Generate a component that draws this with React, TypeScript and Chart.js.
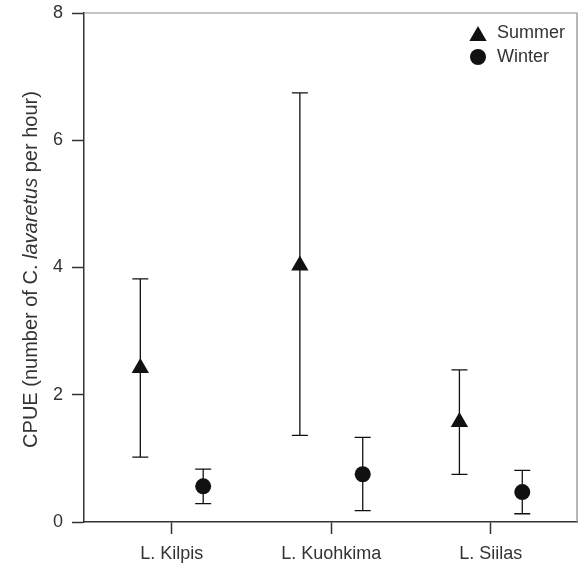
import React, { useEffect, useRef } from 'react';
import { Chart, registerables } from 'chart.js';

Chart.register(...registerables);

const categories = ['L. Kilpis', 'L. Kuohkima', 'L. Siilas'];
const summerMean = [2.42, 4.03, 1.57];
const summerLow = [1.02, 1.36, 0.75];
const summerHigh = [3.82, 6.745, 2.39];
const winterMean = [0.56, 0.75, 0.47];
const winterLow = [0.29, 0.18, 0.13];
const winterHigh = [0.83, 1.33, 0.81];
const yTicks = [0, 2, 4, 6, 8];
const seriesNames = ['Summer', 'Winter'];
const groupOffset = 0.197;

const FONT = '"Liberation Sans", Arial, Helvetica, sans-serif';
const TEXT = '#333333';

const errorBarPlugin = {
  id: 'errorBars',
  beforeDatasetsDraw(chart: any) {
    const { ctx, scales } = chart;
    const x = scales.x;
    const y = scales.y;
    const sets = [
      { lo: summerLow, hi: summerHigh, off: -groupOffset },
      { lo: winterLow, hi: winterHigh, off: groupOffset },
    ];
    ctx.save();
    ctx.strokeStyle = '#111111';
    ctx.lineWidth = 1.3;
    sets.forEach((s) => {
      categories.forEach((_, i) => {
        const px = x.getPixelForValue(i + 1 + s.off);
        const pl = y.getPixelForValue(s.lo[i]);
        const ph = y.getPixelForValue(s.hi[i]);
        ctx.beginPath();
        ctx.moveTo(px, pl);
        ctx.lineTo(px, ph);
        ctx.moveTo(px - 8, pl);
        ctx.lineTo(px + 8, pl);
        ctx.moveTo(px - 8, ph);
        ctx.lineTo(px + 8, ph);
        ctx.stroke();
      });
    });
    ctx.restore();
  },
};

const framePlugin = {
  id: 'frame',
  afterDraw(chart: any) {
    const { ctx, chartArea } = chart;
    ctx.save();
    ctx.strokeStyle = '#8a8a8a';
    ctx.lineWidth = 1.2;
    ctx.beginPath();
    ctx.moveTo(chartArea.left, chartArea.top);
    ctx.lineTo(chartArea.right, chartArea.top);
    ctx.lineTo(chartArea.right, chartArea.bottom);
    ctx.stroke();
    ctx.restore();
  },
};

const yTitlePlugin = {
  id: 'yTitle',
  afterDraw(chart: any) {
    const { ctx, chartArea } = chart;
    const parts = [
      { t: 'CPUE (number of C. ', italic: false },
      { t: 'lavaretus', italic: true },
      { t: ' per hour)', italic: false },
    ];
    const size = 20;
    ctx.save();
    let total = 0;
    const widths = parts.map((p) => {
      ctx.font = `${p.italic ? 'italic ' : ''}${size}px ${FONT}`;
      const w = ctx.measureText(p.t).width;
      total += w;
      return w;
    });
    ctx.translate(31, (chartArea.top + chartArea.bottom) / 2 + 2);
    ctx.rotate(-Math.PI / 2);
    ctx.fillStyle = TEXT;
    ctx.textBaseline = 'middle';
    ctx.textAlign = 'left';
    let cx = -total / 2;
    parts.forEach((p, i) => {
      ctx.font = `${p.italic ? 'italic ' : ''}${size}px ${FONT}`;
      ctx.fillText(p.t, cx, 0);
      cx += widths[i];
    });
    ctx.restore();
  },
};

const legendPlugin = {
  id: 'customLegend',
  afterDraw(chart: any) {
    const { ctx } = chart;
    const mx = 478;
    const tx = 497;
    const rows = [33, 57];
    ctx.save();
    ctx.fillStyle = '#111111';
    const r = 10;
    const cy = rows[0] + 3;
    ctx.beginPath();
    ctx.moveTo(mx, cy - r);
    ctx.lineTo(mx + r * 0.866, cy + r * 0.5);
    ctx.lineTo(mx - r * 0.866, cy + r * 0.5);
    ctx.closePath();
    ctx.fill();
    ctx.beginPath();
    ctx.arc(mx, rows[1], 8, 0, Math.PI * 2);
    ctx.fill();
    ctx.fillStyle = TEXT;
    ctx.font = `18px ${FONT}`;
    ctx.textBaseline = 'middle';
    ctx.textAlign = 'left';
    ctx.fillText(seriesNames[0], tx, rows[0]);
    ctx.fillText(seriesNames[1], tx, rows[1]);
    ctx.restore();
  },
};

export default function App() {
  const ref = useRef<HTMLCanvasElement | null>(null);

  useEffect(() => {
    if (!ref.current) return;
    const chart = new Chart(ref.current, {
      type: 'scatter',
      data: {
        datasets: [
          {
            label: seriesNames[0],
            data: categories.map((_, i) => ({ x: i + 1 - groupOffset, y: summerMean[i] })),
            pointStyle: 'triangle',
            pointRadius: 10,
            pointBackgroundColor: '#111111',
            pointBorderColor: '#111111',
            pointBorderWidth: 0,
            showLine: false,
          },
          {
            label: seriesNames[1],
            data: categories.map((_, i) => ({ x: i + 1 + groupOffset, y: winterMean[i] })),
            pointStyle: 'circle',
            pointRadius: 8,
            pointBackgroundColor: '#111111',
            pointBorderColor: '#111111',
            pointBorderWidth: 0,
            showLine: false,
          },
        ],
      },
      options: {
        responsive: false,
        animation: false,
        events: [],
        layout: { autoPadding: false, padding: { left: 0, top: 13, right: 2, bottom: 0 } },
        plugins: {
          legend: { display: false },
          tooltip: { enabled: false },
          title: { display: false },
        },
        scales: {
          x: {
            type: 'linear',
            min: 0.45,
            max: 3.54,
            afterBuildTicks: (s: any) => {
              s.ticks = categories.map((_, i) => ({ value: i + 1 }));
            },
            afterFit: (s: any) => {
              s.height = 44;
              s.paddingLeft = 0;
              s.paddingRight = 0;
              s.paddingTop = 0;
              s.paddingBottom = 0;
            },
            grid: {
              drawOnChartArea: false,
              drawTicks: true,
              tickLength: 12,
              tickColor: '#333333',
              tickWidth: 1.5,
            },
            border: { display: true, color: '#333333', width: 1.5 },
            ticks: {
              padding: 9,
              color: TEXT,
              font: { family: FONT, size: 18 },
              maxRotation: 0,
              autoSkip: false,
              callback: (v: any) => categories[Number(v) - 1] ?? '',
            },
          },
          y: {
            type: 'linear',
            min: 0,
            max: 8,
            afterBuildTicks: (s: any) => {
              s.ticks = yTicks.map((v) => ({ value: v }));
            },
            afterFit: (s: any) => {
              s.width = 84;
              s.paddingLeft = 0;
              s.paddingRight = 0;
              s.paddingTop = 0;
              s.paddingBottom = 0;
            },
            grid: {
              drawOnChartArea: false,
              drawTicks: true,
              tickLength: 12,
              tickColor: '#333333',
              tickWidth: 1.5,
            },
            border: { display: true, color: '#333333', width: 1.5 },
            ticks: {
              padding: 9,
              color: TEXT,
              font: { family: FONT, size: 18 },
            },
          },
        },
      },
      plugins: [errorBarPlugin, framePlugin, yTitlePlugin, legendPlugin],
    });
    return () => chart.destroy();
  }, []);

  return (
    <div style={{ position: 'fixed', left: 0, top: 0, width: 579, height: 566, background: '#ffffff' }}>
      <canvas ref={ref} width={579} height={566} style={{ display: 'block' }} />
    </div>
  );
}
